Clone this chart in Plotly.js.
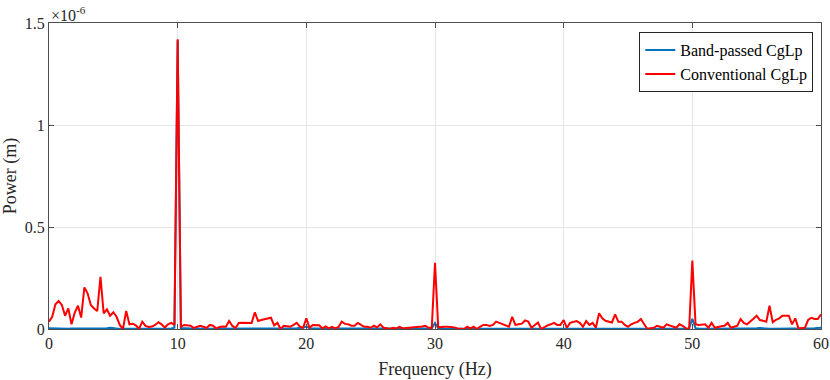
<!DOCTYPE html>
<html>
<head>
<meta charset="utf-8">
<script src="https://cdn.plot.ly/plotly-3.0.1.min.js"></script>
<style>
  html, body { margin: 0; padding: 0; background: #fff; }
  #chart { width: 830px; height: 380px; }
</style>
</head>
<body>
<div id="chart"></div>
<script>
// power spectra, in units of 1e-6 m, 0.25 Hz bins from 0 to 60 Hz
const freqStart = 0;
const freqStep = 0.25;

const conventional = [
  0.036, 0.060, 0.121, 0.137,   // 0
  0.118, 0.065, 0.101, 0.023,   // 1
  0.080, 0.114, 0.056, 0.204,   // 2
  0.175, 0.118, 0.101, 0.088,   // 3
  0.256, 0.077, 0.096, 0.065,   // 4
  0.082, 0.060, 0.020, 0.000,   // 5
  0.088, 0.023, 0.026, 0.018,   // 6
  0.000, 0.036, 0.015, 0.010,   // 7
  0.012, 0.020, 0.033, 0.023,   // 8
  0.007, 0.023, 0.030, 0.020,   // 9
  1.420, 0.011, 0.020, 0.018,   // 10
  0.016, 0.005, 0.012, 0.016,   // 11
  0.011, 0.005, 0.020, 0.016,   // 12
  0.002, 0.010, 0.012, 0.011,   // 13
  0.039, 0.015, 0.005, 0.030,   // 14
  0.031, 0.031, 0.031, 0.030,   // 15
  0.082, 0.039, 0.044, 0.047,   // 16
  0.049, 0.055, 0.018, 0.030,   // 17
  0.000, 0.016, 0.014, 0.011,   // 18
  0.020, 0.030, 0.011, 0.006,   // 19
  0.052, 0.006, 0.020, 0.020,   // 20
  0.018, 0.003, 0.013, 0.003,   // 21
  0.011, 0.003, 0.010, 0.036,   // 22
  0.025, 0.023, 0.016, 0.016,   // 23
  0.030, 0.020, 0.011, 0.011,   // 24
  0.006, 0.016, 0.008, 0.023,   // 25
  0.006, 0.004, 0.000, 0.006,   // 26
  0.003, 0.011, 0.003, 0.005,   // 27
  0.006, 0.006, 0.007, 0.008,   // 28
  0.012, 0.016, 0.006, 0.006,   // 29
  0.325, 0.008, 0.011, 0.011,   // 30
  0.011, 0.010, 0.008, 0.003,   // 31
  0.003, 0.000, 0.011, 0.003,   // 32
  0.011, 0.000, 0.011, 0.020,   // 33
  0.020, 0.015, 0.020, 0.036,   // 34
  0.030, 0.023, 0.015, 0.011,   // 35
  0.060, 0.020, 0.023, 0.026,   // 36
  0.042, 0.036, 0.006, 0.020,   // 37
  0.032, 0.000, 0.011, 0.018,   // 38
  0.023, 0.030, 0.020, 0.020,   // 39
  0.044, 0.006, 0.030, 0.036,   // 40
  0.039, 0.030, 0.011, 0.039,   // 41
  0.020, 0.030, 0.006, 0.077,   // 42
  0.052, 0.040, 0.036, 0.032,   // 43
  0.072, 0.036, 0.036, 0.020,   // 44
  0.011, 0.023, 0.030, 0.035,   // 45
  0.049, 0.023, 0.000, 0.004,   // 46
  0.006, 0.016, 0.010, 0.006,   // 47
  0.023, 0.016, 0.010, 0.006,   // 48
  0.023, 0.016, 0.003, 0.000,   // 49
  0.335, 0.023, 0.020, 0.020,   // 50
  0.023, 0.006, 0.030, 0.006,   // 51
  0.011, 0.013, 0.016, 0.030,   // 52
  0.006, 0.012, 0.016, 0.049,   // 53
  0.030, 0.023, 0.039, 0.050,   // 54
  0.065, 0.044, 0.040, 0.036,   // 55
  0.114, 0.033, 0.045, 0.052,   // 56
  0.065, 0.065, 0.065, 0.023,   // 57
  0.052, 0.003, 0.004, 0.006,   // 58
  0.044, 0.055, 0.049, 0.049,   // 59
  0.072                         // 60
];

const bandPassed = [
  0.004, 0.003, 0.002, 0.002,   // 0
  0.002, 0.002, 0.001, 0.002,   // 1
  0.002, 0.001, 0.002, 0.002,   // 2
  0.001, 0.001, 0.002, 0.002,   // 3
  0.002, 0.003, 0.004, 0.006,   // 4
  0.003, 0.002, 0.001, 0.001,   // 5
  0.001, 0.001, 0.002, 0.001,   // 6
  0.001, 0.001, 0.001, 0.002,   // 7
  0.002, 0.002, 0.003, 0.002,   // 8
  0.002, 0.002, 0.003, 0.006,   // 9
  1.415, 0.005, 0.003, 0.002,   // 10
  0.002, 0.002, 0.001, 0.001,   // 11
  0.001, 0.001, 0.001, 0.001,   // 12
  0.001, 0.001, 0.001, 0.001,   // 13
  0.001, 0.001, 0.001, 0.001,   // 14
  0.001, 0.001, 0.001, 0.002,   // 15
  0.002, 0.002, 0.001, 0.001,   // 16
  0.001, 0.001, 0.001, 0.001,   // 17
  0.001, 0.001, 0.002, 0.002,   // 18
  0.003, 0.004, 0.005, 0.006,   // 19
  0.012, 0.004, 0.002, 0.002,   // 20
  0.001, 0.001, 0.001, 0.001,   // 21
  0.001, 0.001, 0.001, 0.001,   // 22
  0.001, 0.001, 0.001, 0.001,   // 23
  0.001, 0.001, 0.001, 0.001,   // 24
  0.001, 0.001, 0.001, 0.001,   // 25
  0.001, 0.001, 0.001, 0.001,   // 26
  0.001, 0.001, 0.001, 0.001,   // 27
  0.001, 0.001, 0.001, 0.001,   // 28
  0.001, 0.001, 0.002, 0.003,   // 29
  0.030, 0.003, 0.002, 0.001,   // 30
  0.001, 0.001, 0.001, 0.001,   // 31
  0.001, 0.001, 0.001, 0.001,   // 32
  0.001, 0.001, 0.001, 0.001,   // 33
  0.001, 0.001, 0.001, 0.001,   // 34
  0.001, 0.001, 0.001, 0.001,   // 35
  0.001, 0.001, 0.001, 0.001,   // 36
  0.001, 0.001, 0.001, 0.001,   // 37
  0.001, 0.001, 0.001, 0.001,   // 38
  0.001, 0.001, 0.001, 0.002,   // 39
  0.002, 0.002, 0.001, 0.001,   // 40
  0.001, 0.001, 0.001, 0.001,   // 41
  0.001, 0.001, 0.001, 0.001,   // 42
  0.001, 0.001, 0.001, 0.001,   // 43
  0.001, 0.001, 0.001, 0.001,   // 44
  0.001, 0.001, 0.001, 0.001,   // 45
  0.001, 0.001, 0.001, 0.001,   // 46
  0.001, 0.001, 0.001, 0.001,   // 47
  0.001, 0.001, 0.001, 0.001,   // 48
  0.001, 0.001, 0.002, 0.003,   // 49
  0.050, 0.003, 0.002, 0.001,   // 50
  0.001, 0.001, 0.001, 0.001,   // 51
  0.001, 0.001, 0.001, 0.001,   // 52
  0.001, 0.001, 0.001, 0.001,   // 53
  0.001, 0.002, 0.002, 0.003,   // 54
  0.004, 0.005, 0.003, 0.002,   // 55
  0.001, 0.001, 0.001, 0.001,   // 56
  0.001, 0.001, 0.001, 0.001,   // 57
  0.001, 0.001, 0.001, 0.002,   // 58
  0.002, 0.003, 0.004, 0.005,   // 59
  0.006                         // 60
];

const xTicks = [0, 10, 20, 30, 40, 50, 60];
const yTicks = [0, 0.5, 1, 1.5];
const yTickLabels = ['0', '0.5', '1', '1.5'];

const serif = "'Liberation Serif', 'Times New Roman', serif";
const axisGray = '#4d4d4d';
const textGray = '#262626';

const bandTrace = {
  x0: freqStart,
  dx: freqStep,
  y: bandPassed,
  name: 'Band-passed CgLp',
  type: 'scatter',
  mode: 'lines',
  line: { color: '#0072BD', width: 2 }
};

const convTrace = {
  x0: freqStart,
  dx: freqStep,
  y: conventional,
  name: 'Conventional CgLp',
  type: 'scatter',
  mode: 'lines',
  line: { color: '#ff0000', width: 2 }
};

const layout = {
  width: 830,
  height: 380,
  margin: { l: 49, r: 9, t: 23, b: 51 },
  paper_bgcolor: '#ffffff',
  plot_bgcolor: '#ffffff',
  font: { family: serif, size: 16, color: textGray },
  showlegend: true,
  xaxis: {
    range: [0, 60],
    tickvals: xTicks,
    ticks: 'inside',
    ticklen: 5,
    tickcolor: axisGray,
    showline: true,
    linecolor: axisGray,
    linewidth: 1,
    mirror: 'ticks',
    showgrid: true,
    gridcolor: '#e6e6e6',
    zeroline: false,
    tickfont: { family: serif, size: 16, color: textGray },
    title: { text: 'Frequency (Hz)', font: { family: serif, size: 18, color: textGray }, standoff: 12 }
  },
  yaxis: {
    range: [0, 1.5],
    tickvals: yTicks,
    ticktext: yTickLabels,
    ticks: 'inside',
    ticklen: 5,
    tickcolor: axisGray,
    showline: true,
    linecolor: axisGray,
    linewidth: 1,
    mirror: 'ticks',
    showgrid: true,
    gridcolor: '#e6e6e6',
    zeroline: false,
    tickfont: { family: serif, size: 16, color: textGray },
    title: { text: 'Power (m)', font: { family: serif, size: 18, color: textGray }, standoff: 6 }
  },
  legend: {
    x: 0.99,
    y: 0.97,
    xanchor: 'right',
    yanchor: 'top',
    bgcolor: '#ffffff',
    bordercolor: textGray,
    borderwidth: 1,
    font: { family: serif, size: 16, color: '#000000' },
    tracegroupgap: 0,
    itemwidth: 30
  },
  annotations: [{
    xref: 'paper',
    yref: 'paper',
    x: 0,
    y: 1,
    xanchor: 'left',
    yanchor: 'bottom',
    yshift: -3,
    showarrow: false,
    text: '\u00d710<sup>-6</sup>',
    font: { family: serif, size: 16, color: textGray }
  }]
};

Plotly.newPlot('chart', [bandTrace, convTrace], layout, { displayModeBar: false, staticPlot: true });
</script>
</body>
</html>
